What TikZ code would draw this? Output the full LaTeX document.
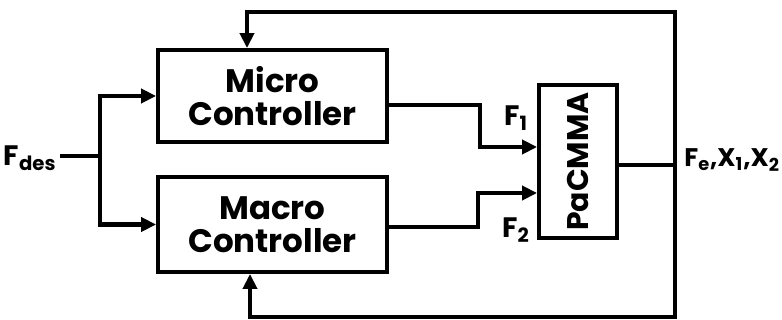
\documentclass[tikz,border=0pt]{standalone}
\usepackage{fontspec}
\setmainfont{Poppins}
\usepackage{tikz}
\usetikzlibrary{arrows.meta,positioning}

\begin{document}
\begin{tikzpicture}[x=0.02cm, y=-0.02cm,
      block/.style={draw, line width=2.2pt, minimum width=4.58cm, align=center,
        font=\fontsize{18.5}{18.5}\selectfont\bfseries},
      lbl/.style={font=\fontsize{16}{16}\selectfont\bfseries, inner sep=0pt},
      wire/.style={line width=2.4pt},
      arr/.style={wire, -{Triangle[length=3mm, width=2.8mm]}}
    ]
      \useasboundingbox (0,0) rectangle (782,320);
      \node[block, minimum height=1.84cm] (micro) at (272.5,96) {Micro\\Controller};
      \node[block, minimum height=1.9cm] (macro) at (272.5,224.5) {Macro\\Controller};
      \node[draw, line width=2.2pt, minimum width=1.56cm, minimum height=3.06cm] (pacmma) at (578,161.5) {};
      \node[rotate=90, font=\fontsize{17}{17}\selectfont\bfseries] (pname) at (pacmma.center) {PaCMMA};
      \node[lbl] (fdes) at (30,158) {F\textsubscript{des}};
      \node[lbl] (f1) at (516,118) {F\textsubscript{1}};
      \node[lbl] (f2) at (516,230) {F\textsubscript{2}};
      \node[lbl, anchor=west, font=\fontsize{14.5}{15}\selectfont\bfseries] (fout) at (684,160) {F\textsubscript{e},X\textsubscript{1},X\textsubscript{2}};
      \coordinate (split) at (100,156);
      \coordinate (fin) at (60,156);
      \coordinate (out) at (675,165);
      \coordinate (top) at (675,12);
      \coordinate (bot) at (675,317);
      % input
      \draw[wire] (fin) -- (split);
      \draw[arr] (split) |- (micro.west);
      \draw[arr] (split) |- (macro.west);
      % controller outputs
      \draw[arr] (micro.east |- 0,105) -- (480,105) -- (480,147) -- (pacmma.west |- 0,147);
      \draw[arr] (macro.east |- 0,227) -- (478,227) -- (478,193) -- (pacmma.west |- 0,193);
      % output and feedback
      \draw[wire] (pacmma.east |- out) -- (out);
      \draw[arr] (out) -- (top) -| (micro.north -| 247,0);
      \draw[arr] (out) -- (bot) -| (macro.south -| 250,0);
    \end{tikzpicture}
\end{document}
